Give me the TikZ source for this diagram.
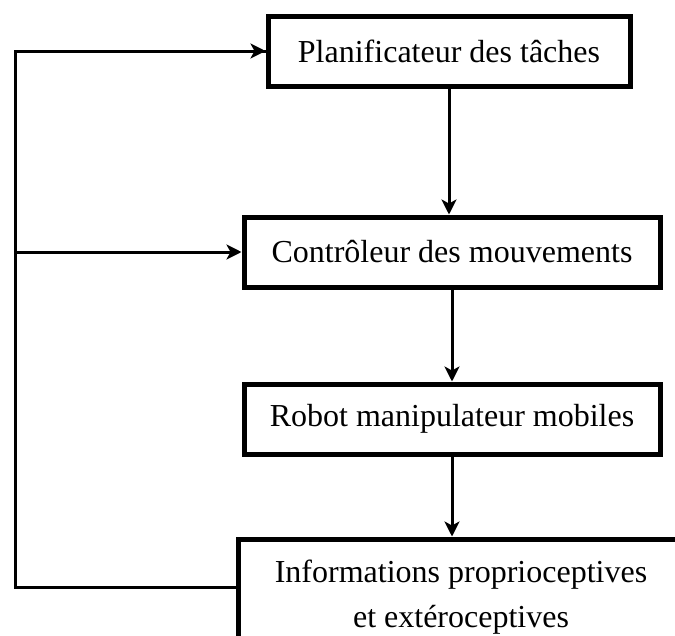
\documentclass[tikz,border=0pt]{standalone}
\usepackage{fontspec}
\setmainfont{Liberation Serif}
\usetikzlibrary{arrows.meta}

\begin{document}
\begin{tikzpicture}[x=1pt,y=-1pt,
  box/.style={draw,line width=5pt,minimum height=70pt,inner sep=0pt,
    font=\fontsize{32}{45}\selectfont},
  arr/.style={line width=3pt,-{Stealth[length=15pt,width=15pt,inset=4pt]}},
  fb/.style={line width=3pt}]
\useasboundingbox (0,0) rectangle (675,635);
\node[box,minimum width=362pt] (plan) at (449,51) {Planificateur des tâches};
\node[box,minimum width=416pt] (ctrl) at (452,252) {Contrôleur des mouvements};
\node[box,minimum width=416pt] (robot) at (452,419) {Robot manipulateur mobiles};
\node[box,minimum width=446pt,minimum height=110pt,align=center,text depth=0pt] (info) at (461,594)
  {Informations proprioceptives\\et extéroceptives};
\coordinate (bas) at (15.5,587);
\coordinate (haut) at (15.5,51);
\coordinate (mil) at (15.5,252);

\draw[arr] (plan.south) -- (plan.south |- ctrl.north);
\draw[arr] (ctrl.south) -- (ctrl.south |- robot.north);
\draw[arr] (robot.south) -- (robot.south |- info.north);
\draw[fb,line join=miter] (info.west |- bas) -- (bas) -- (haut) -- (plan.west);
\draw[arr] (haut) -- (plan.west);
\draw[arr] (mil) -- (ctrl.west);
\end{tikzpicture}
\end{document}
